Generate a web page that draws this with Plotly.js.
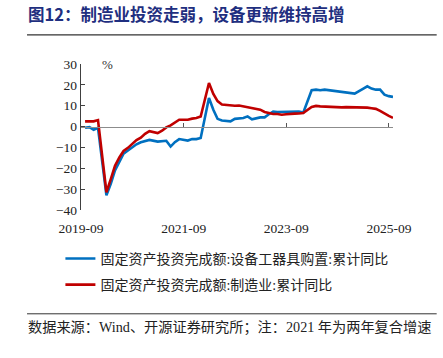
<!DOCTYPE html>
<html><head><meta charset="utf-8">
<script src="https://cdn.plot.ly/plotly-3.0.1.min.js"></script>
<style>html,body{margin:0;padding:0;background:#fff;}#c{width:443px;height:358px;}</style>
</head><body><div id="c"></div>
<script>
const dates = [
 '2019-09-30','2019-10-31','2019-11-30','2019-12-31',
 '2020-02-29','2020-03-31','2020-04-30','2020-05-31','2020-06-30','2020-07-31','2020-08-31','2020-09-30','2020-10-31','2020-11-30','2020-12-31',
 '2021-02-28','2021-03-31','2021-04-30','2021-05-31','2021-06-30','2021-07-31','2021-08-31','2021-09-30','2021-10-31','2021-11-30','2021-12-31',
 '2022-02-28','2022-03-31','2022-04-30','2022-05-31','2022-06-30','2022-07-31','2022-08-31','2022-09-30','2022-10-31','2022-11-30','2022-12-31',
 '2023-02-28','2023-03-31','2023-04-30','2023-05-31','2023-06-30','2023-07-31','2023-08-31','2023-09-30','2023-10-31','2023-11-30','2023-12-31',
 '2024-02-29','2024-03-31','2024-04-30','2024-05-31','2024-06-30','2024-07-31','2024-08-31','2024-09-30','2024-10-31','2024-11-30','2024-12-31',
 '2025-02-28','2025-03-31','2025-04-30','2025-05-31','2025-06-30','2025-07-31','2025-08-31','2025-09-30'
];
const equipment = [
 -0.6,-0.3,-1.5,-0.6,
 -33.0,-27.5,-21.0,-16.5,-13.0,-11.5,-9.8,-8.5,-7.5,-7.0,-6.4,
 -7.2,-7.0,-6.8,-9.6,-7.5,-6.0,-6.2,-6.7,-6.0,-6.0,-5.5,
 13.7,8.1,3.7,2.9,2.6,2.5,3.7,3.9,4.1,4.9,3.5,
 4.4,4.4,5.9,7.2,7.0,7.0,7.2,7.2,7.2,7.2,6.7,
 17.4,17.7,17.4,17.7,17.4,17.1,16.9,16.6,16.3,16.0,15.8,
 18.1,19.3,18.2,17.7,17.7,15.3,14.6,14.2
];
const manufacturing = [
 2.5,2.6,2.5,3.1,
 -31.5,-25.2,-18.8,-14.8,-11.7,-10.2,-8.1,-6.5,-5.3,-3.5,-2.2,
 -3.1,-2.0,-0.4,0.6,2.0,3.3,3.3,3.3,3.8,4.1,4.8,
 20.9,15.6,12.2,10.6,10.4,9.9,10.0,10.1,9.7,9.3,9.1,
 8.1,7.0,6.4,6.0,6.0,5.7,5.9,6.2,6.2,6.3,6.5,
 9.4,9.9,9.7,9.6,9.5,9.3,9.1,9.2,9.3,9.3,9.2,
 9.0,9.1,8.8,8.5,7.5,6.2,5.1,4.2
];
const seriesNames = ['固定资产投资完成额:设备工器具购置:累计同比','固定资产投资完成额:制造业:累计同比'];
const tickVals = ['2019-09-01','2021-09-01','2023-09-01','2025-09-01'];
const tickText = ['2019-09','2021-09','2023-09','2025-09'];
const yTicks = [-40,-30,-20,-10,0,10,20,30];

const serif = '"Liberation Serif", "Noto Sans CJK SC", serif';
const cjk = '"Liberation Serif", "Noto Sans CJK SC", sans-serif';
const xRange = ['2019-09-01','2025-09-30'];

const traces = [
 {x: dates, y: equipment, name: seriesNames[0], type:'scatter', mode:'lines', legendgroup:'a',
  line:{color:'#0070C0', width:2.6}},
 {x: dates, y: manufacturing, name: seriesNames[1], type:'scatter', mode:'lines', legendgroup:'b',
  line:{color:'#C00000', width:2.6}},
 {x: [xRange[0]], y:[0], xaxis:'x2', yaxis:'y', mode:'markers', marker:{opacity:0}, showlegend:false, hoverinfo:'skip'}
];

const layout = {
 width:443, height:358,
 margin:{l:81, r:50, t:64, b:148},
 paper_bgcolor:'#fff', plot_bgcolor:'#fff',
 showlegend:true,
 legend:{x:-0.066, y:-0.225, xanchor:'left', yanchor:'top', orientation:'v',
   font:{family:cjk, size:14, color:'#222'}, tracegroupgap:5},
 xaxis:{type:'date', range:xRange, tickvals:tickVals, ticktext:tickText,
   showline:false, showgrid:false, zeroline:false, ticks:'outside', ticklen:6, tickcolor:'rgba(0,0,0,0)',
   tickfont:{family:serif, size:13.5, color:'#222'}},
 xaxis2:{type:'date', range:xRange, overlaying:'x', anchor:'free', position:40/70,
   tickvals:tickVals, showticklabels:false, ticks:'inside', ticklen:4, tickcolor:'#555', tickwidth:1,
   showline:true, linecolor:'#8c8c8c', linewidth:1.5, showgrid:false, zeroline:false},
 yaxis:{range:[-40,30], tickvals:yTicks, showgrid:false, zeroline:false,
   showline:true, linecolor:'#404040', linewidth:1.3, ticks:'inside', ticklen:4, tickcolor:'#404040',
   tickfont:{family:serif, size:13.5, color:'#222'}},
 annotations:[
  {text:'图12：制造业投资走弱，设备更新维持高增', xref:'paper', yref:'paper', x:-0.175, y:1.345, xanchor:'left', yanchor:'middle',
   showarrow:false, font:{family:'"Noto Sans CJK SC", sans-serif', size:16.5, color:'#1F2F80', weight:'bold'}},
  {text:'%', xref:'paper', yref:'paper', x:0.06, y:1.0, xanchor:'left', yanchor:'middle', showarrow:false,
   font:{family:serif, size:13, color:'#333'}},
  {text:'数据来源：Wind、开源证券研究所；注：2021 年为两年复合增速', xref:'paper', yref:'paper', x:-0.175, y:-0.805, xanchor:'left', yanchor:'middle',
   showarrow:false, font:{family:cjk, size:14.2, color:'#222'}}
 ],
 shapes:[
  {type:'line', xref:'paper', yref:'paper', x0:-0.173, x1:1.14, y0:1.2, y1:1.2, line:{color:'#333', width:1.3}},
  {type:'line', xref:'paper', yref:'paper', x0:-0.173, x1:1.14, y0:-0.711, y1:-0.711, line:{color:'#333', width:1}}
 ]
};
Plotly.newPlot('c', traces, layout, {displayModeBar:false, staticPlot:true});
</script></body></html>
